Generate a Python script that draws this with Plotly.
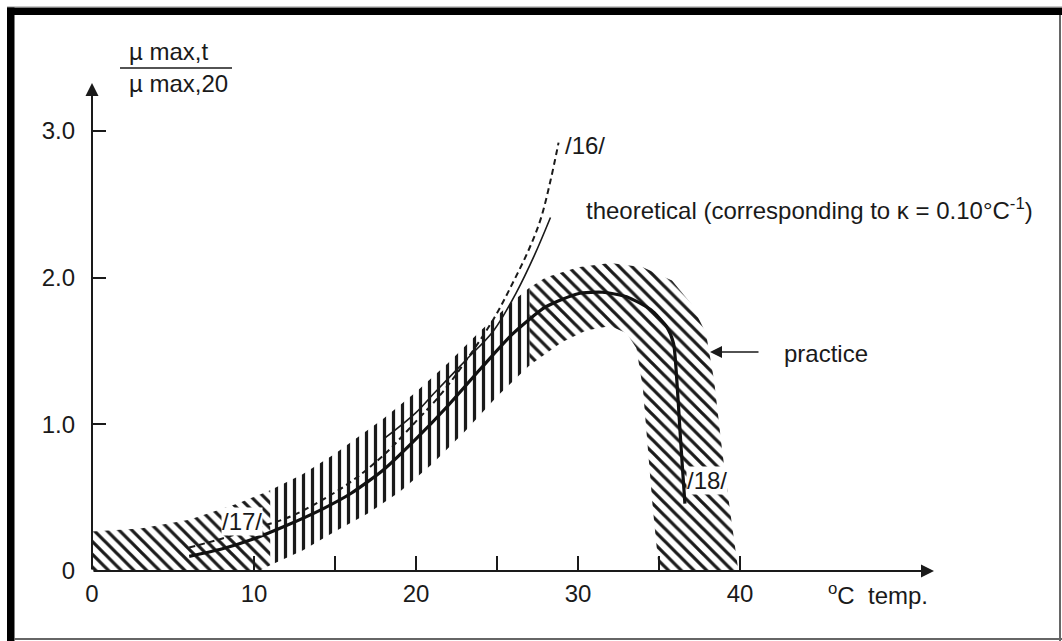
import plotly.graph_objects as go

# ---------------- data ----------------
# hatched "practice" band: outer (upper) boundary and inner (lower) boundary
band_upper_x = [0, 3, 6, 9, 11, 13, 15, 18, 20, 22, 24, 26, 27, 28, 30, 32, 34, 35.8, 37.0, 37.9, 38.4, 38.9, 39.4, 39.9]
band_upper_y = [0.27, 0.29, 0.35, 0.46, 0.55, 0.66, 0.80, 1.04, 1.22, 1.42, 1.64, 1.84, 1.93, 2.00, 2.07, 2.10, 2.07, 1.98, 1.82, 1.62, 1.30, 0.82, 0.40, 0.0]
band_lower_x = [10.3, 11, 13, 15, 17, 19, 21, 23, 25, 27, 29, 30.5, 32, 33, 33.6, 34.0, 34.3, 34.6, 35.0]
band_lower_y = [0.0, 0.04, 0.14, 0.27, 0.39, 0.54, 0.73, 0.95, 1.19, 1.40, 1.56, 1.64, 1.67, 1.62, 1.52, 1.25, 0.85, 0.45, 0.0]
band_splits = [11, 27]          # where the hatch direction changes
band_shapes = ["\\", "|", "\\"]

# practice curve (thick solid)
practice_x = [6.0, 8, 10, 12, 14, 16, 18, 20, 22, 24, 26, 28, 30, 31.5, 33, 34.5, 35.5, 35.9, 36.1, 36.3, 36.45, 36.6]
practice_y = [0.10, 0.15, 0.22, 0.31, 0.41, 0.53, 0.69, 0.90, 1.13, 1.38, 1.62, 1.80, 1.89, 1.90, 1.87, 1.78, 1.66, 1.55, 1.30, 0.95, 0.70, 0.46]

# theoretical curve (thin solid)
theory_x = [18, 20, 21.1, 23.1, 24.8, 26.2, 27.3, 28.3]
theory_y = [0.90, 1.08, 1.21, 1.44, 1.64, 1.90, 2.15, 2.41]

# literature curves /17/ - /16/ (dashed)
lit_x = [6, 8, 10, 12, 14, 16, 18, 20, 21.5, 23, 24.8, 26, 27, 27.7, 28.3, 28.8]
lit_y = [0.16, 0.22, 0.29, 0.36, 0.47, 0.61, 0.79, 1.02, 1.20, 1.42, 1.72, 1.97, 2.20, 2.40, 2.66, 2.92]

x_tickvals = [0, 10, 15, 20, 25, 30, 35, 40]
x_ticktext = ["0", "10", "", "20", "", "30", "", "40"]
y_tickvals = [0, 1, 2, 3]
y_ticktext = ["0", "1.0", "2.0", "3.0"]

# ---------------- layout geometry (pixels) ----------------
W, H = 1062, 641
PX_L, PX_R, PX_T, PX_B = 92, 940, 83, 571
X_PER_UNIT = 16.2
Y_PER_UNIT = 146.7
X_MAX = (PX_R - PX_L) / X_PER_UNIT
Y_MAX = (PX_B - PX_T) / Y_PER_UNIT


def dx(px):
    return (px - PX_L) / X_PER_UNIT


def dy(py):
    return (PX_B - py) / Y_PER_UNIT


def paper_x(px):
    return (px - PX_L) / (PX_R - PX_L)


def paper_y(py):
    return (PX_B - py) / (PX_B - PX_T)


INK = "#1a1a1a"
FONT = "Liberation Sans, Arial, Helvetica, sans-serif"
FS = 24

fig = go.Figure()

# ---- hatched band, split in pieces with different hatch direction ----
bounds = [0] + band_splits + [100]
for i, shape in enumerate(band_shapes):
    lo, hi = bounds[i], bounds[i + 1]
    up = [(x, y) for x, y in zip(band_upper_x, band_upper_y) if lo <= x <= hi]
    lw = [(x, y) for x, y in zip(band_lower_x, band_lower_y) if lo <= x <= hi]
    if i == 0:
        poly = [(0, 0)] + up + lw[::-1] + [(band_lower_x[0], 0)]
    elif i == len(band_shapes) - 1:
        poly = up + [(band_lower_x[-1], 0)] + lw[::-1]
    else:
        poly = up + lw[::-1]
    xs = [p[0] for p in poly] + [poly[0][0]]
    ys = [p[1] for p in poly] + [poly[0][1]]
    fig.add_trace(go.Scatter(
        x=xs, y=ys, mode="lines", fill="toself",
        line=dict(width=0, color="rgba(0,0,0,0)"),
        fillcolor="rgba(0,0,0,0)",
        fillpattern=dict(shape=shape, fgcolor="#1a1a1a", bgcolor="rgba(0,0,0,0)",
                         fgopacity=1, size=9, solidity=0.36, fillmode="replace"),
        hoverinfo="skip", showlegend=False))

# ---- curves ----
fig.add_trace(go.Scatter(x=lit_x, y=lit_y, mode="lines",
                         line=dict(color=INK, width=2, dash="6px,4px", shape="spline"),
                         showlegend=False))
fig.add_trace(go.Scatter(x=theory_x, y=theory_y, mode="lines",
                         line=dict(color=INK, width=1.6, shape="spline"),
                         showlegend=False))
fig.add_trace(go.Scatter(x=practice_x, y=practice_y, mode="lines",
                         line=dict(color="#111111", width=3.2, shape="spline", smoothing=0.6),
                         showlegend=False))

annotations = []
# axes with arrows
annotations.append(dict(x=dx(934), y=0, ax=0, ay=0, xref="x", yref="y", axref="x", ayref="y",
                        text="", showarrow=True, arrowhead=2, arrowsize=1.3, arrowwidth=2,
                        arrowcolor=INK, standoff=0, startstandoff=0))
annotations.append(dict(x=0, y=dy(83), ax=0, ay=0, xref="x", yref="y", axref="x", ayref="y",
                        text="", showarrow=True, arrowhead=2, arrowsize=1.3, arrowwidth=2,
                        arrowcolor=INK, standoff=0, startstandoff=0))
# practice arrow
annotations.append(dict(x=dx(710), y=dy(352), ax=dx(760), ay=dy(352), xref="x", yref="y",
                        axref="x", ayref="y", text="", showarrow=True, arrowhead=2,
                        arrowsize=1.5, arrowwidth=1.6, arrowcolor=INK, standoff=0))


def label(txt, px, py, anchor="left", size=FS, bg=None):
    a = dict(x=paper_x(px), y=paper_y(py), xref="paper", yref="paper",
             text=txt, showarrow=False, xanchor=anchor, yanchor="middle",
             font=dict(family=FONT, size=size, color=INK))
    if bg:
        a.update(bgcolor=bg, borderpad=0)
    annotations.append(a)


label("/16/", 563, 146)
label("theoretical (corresponding to \u03ba = 0.10\u00b0C<sup>-1</sup>)", 584, 209)
label("practice", 782, 353)
label("/17/", 242, 521, anchor="center", bg="white")
label("/18/", 686, 480, bg="white")
label("<sup>o</sup>C  temp.", 826, 594)
label("\u00b5 max,t", 127, 52)
label("\u00b5 max,20", 127, 84)

shapes = [
    # fraction bar of the y title
    dict(type="line", xref="paper", yref="paper", x0=paper_x(120), x1=paper_x(232),
         y0=paper_y(68), y1=paper_y(68), line=dict(color=INK, width=1.5)),
    # picture frame: thick black top and left, thin grey right and bottom
    dict(type="rect", xref="paper", yref="paper", x0=paper_x(7), x1=paper_x(1062),
         y0=paper_y(15), y1=paper_y(7.5), fillcolor="black", line=dict(width=0), layer="above"),
    dict(type="rect", xref="paper", yref="paper", x0=paper_x(7), x1=paper_x(14.5),
         y0=paper_y(641), y1=paper_y(7.5), fillcolor="black", line=dict(width=0), layer="above"),
    dict(type="line", xref="paper", yref="paper", x0=paper_x(1060), x1=paper_x(1060),
         y0=paper_y(641), y1=paper_y(15), line=dict(color="#666666", width=2)),
    dict(type="line", xref="paper", yref="paper", x0=paper_x(14), x1=paper_x(1062),
         y0=paper_y(639), y1=paper_y(639), line=dict(color="#666666", width=2)),
    dict(type="line", xref="paper", yref="paper", x0=paper_x(7), x1=paper_x(1062),
         y0=paper_y(6.5), y1=paper_y(6.5), line=dict(color="#c8c8c8", width=1)),
]

fig.update_layout(
    width=W, height=H, autosize=False,
    margin=dict(l=PX_L, r=W - PX_R, t=PX_T, b=H - PX_B, pad=0),
    paper_bgcolor="white", plot_bgcolor="white",
    showlegend=False,
    annotations=annotations, shapes=shapes,
    font=dict(family=FONT, size=FS, color=INK),
)
fig.update_xaxes(range=[0, X_MAX], showgrid=False, zeroline=False, showline=False,
                 tickvals=x_tickvals, ticktext=x_ticktext, ticks="inside", ticklen=15,
                 tickwidth=2, tickcolor=INK, ticklabelstandoff=6,
                 tickfont=dict(family=FONT, size=FS, color=INK), fixedrange=True)
fig.update_yaxes(range=[0, Y_MAX], showgrid=False, zeroline=False, showline=False,
                 tickvals=y_tickvals, ticktext=y_ticktext, ticks="inside", ticklen=14,
                 tickwidth=2, tickcolor=INK, ticklabelstandoff=16,
                 tickfont=dict(family=FONT, size=FS, color=INK), fixedrange=True)

fig.write_html("out.html", config={"displayModeBar": False},
               post_script="document.body.style.margin='0';document.body.style.overflow='hidden';")
